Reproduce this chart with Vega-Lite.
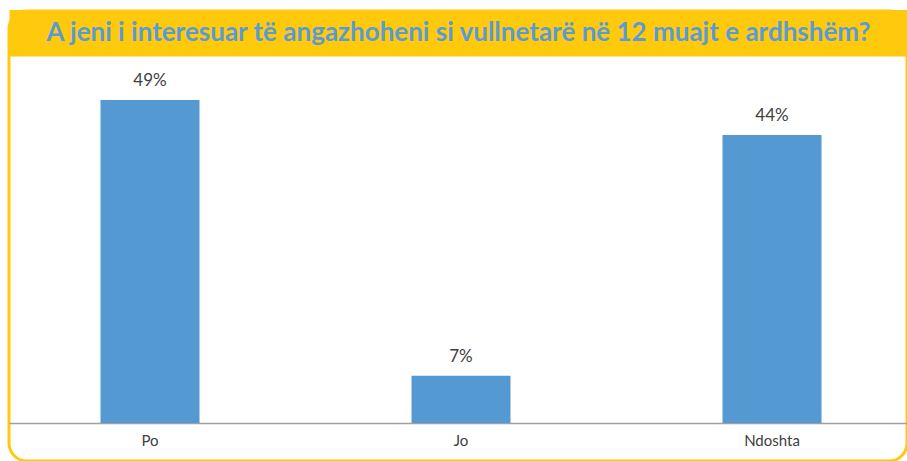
{
  "$schema": "https://vega.github.io/schema/vega-lite/v6.json",
  "autosize": {"type": "none"},
  "padding": {"left": 9, "top": 11, "right": 0, "bottom": 0},
  "width": 898,
  "height": 450,
  "background": "white",
  "data": {"values": [
    {"k": "Po", "v": 0.49},
    {"k": "Jo", "v": 0.0717},
    {"k": "Ndoshta", "v": 0.437}
  ]},
  "encoding": {
    "x": {"field": "k", "type": "nominal", "sort": null,
      "scale": {"paddingInner": 0.6817, "paddingOuter": 0.2846, "align": 0.517}},
    "y": {"field": "v", "type": "quantitative",
      "scale": {"domain": [-0.0576, 0.625], "nice": false, "zero": false}, "axis": null}
  },
  "layer": [
    {
      "mark": {"type": "bar", "color": "#5499D1"},
      "encoding": {
        "x": {"field": "k", "type": "nominal", "sort": null,
          "scale": {"paddingInner": 0.6817, "paddingOuter": 0.2846, "align": 0.517},
          "axis": {"orient": "bottom", "offset": -38, "title": null, "labelAngle": 0,
            "domainColor": "#A0A0A0", "domainWidth": 1.5, "ticks": false, "labelPadding": 10,
            "labelFont": "Lato", "labelFontSize": 15, "labelColor": "#404040"}}
      }
    },
    {
      "mark": {"type": "text", "baseline": "alphabetic", "dy": -14, "font": "Lato", "fontSize": 17, "color": "#404040"},
      "encoding": {
        "x": {"field": "k", "type": "nominal", "sort": null,
          "axis": {"orient": "top", "offset": -21.75, "labels": false, "ticks": false,
            "domainColor": "#FFC90E", "domainWidth": 46.5,
            "title": "A jeni i interesuar të angazhoheni si vullnetarë në 12 muajt e ardhshëm?",
            "titleFont": "Lato", "titleFontSize": 26, "titleFontWeight": "bold", "titleColor": "#5B9BD5",
            "titleBaseline": "alphabetic", "titlePadding": -8, "titleAnchor": "middle"}},
        "text": {"field": "v", "type": "quantitative", "format": ".0%"}
      }
    }
  ],
  "resolve": {"axis": {"x": "independent"}},
  "config": {
    "view": {"stroke": "#FFC90E", "strokeWidth": 3, "cornerRadius": 18, "fill": "white"}
  }
}
